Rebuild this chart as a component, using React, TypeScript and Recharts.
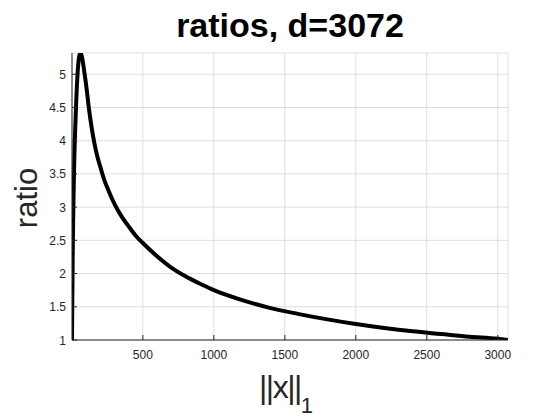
import React from 'react';
import { LineChart, Line, XAxis, YAxis, CartesianGrid } from 'recharts';

// values
const norms = [
  1, 2, 4, 6, 9, 13, 18, 24, 30, 40, 50, 60, 70, 80, 90, 100, 120, 140, 160, 180, 200, 230,
  260, 300, 350, 400, 450, 500, 600, 700, 800, 900, 1000, 1200, 1400, 1600, 1800, 2000, 2200,
  2400, 2600, 2800, 3000, 3072,
];
const ratios = [
  1.0, 1.3, 1.8, 2.3, 2.8, 3.3, 3.8, 4.2, 4.55, 5.0, 5.25, 5.32, 5.27, 5.15, 5.0, 4.85, 4.49,
  4.19, 3.95, 3.76, 3.61, 3.4, 3.24, 3.05, 2.86, 2.71, 2.57, 2.46, 2.26, 2.09, 1.96, 1.85, 1.75,
  1.6, 1.48, 1.39, 1.31, 1.24, 1.18, 1.13, 1.09, 1.05, 1.02, 1.0,
];
const xTicks = [500, 1000, 1500, 2000, 2500, 3000];
const yTicks = [1, 1.5, 2, 2.5, 3, 3.5, 4, 4.5, 5];

const data = norms.map((n, i) => ({ n, r: ratios[i] }));

const AXIS = '#262626';
const FONT = 'Arial, "Liberation Sans", Helvetica, sans-serif';

const XTick = (props: any) => {
  const { x, y, payload } = props;
  return (
    <g>
      <line x1={x} x2={x} y1={y} y2={y - 5} stroke={AXIS} strokeWidth={1} />
      <text x={x} y={y + 19} textAnchor="middle" fontSize={12} fill={AXIS} fontFamily={FONT}>
        {payload.value}
      </text>
    </g>
  );
};

const YTick = (props: any) => {
  const { x, y, payload } = props;
  return (
    <g>
      <line x1={x} x2={x + 5} y1={y} y2={y} stroke={AXIS} strokeWidth={1} />
      <text x={x - 6} y={y + 4.5} textAnchor="end" fontSize={12} fill={AXIS} fontFamily={FONT}>
        {payload.value}
      </text>
    </g>
  );
};

const StartDot = (props: any) => {
  const { cx, cy, payload, index } = props;
  if (payload.n > 18) return <g key={index} />;
  return <circle key={index} cx={cx} cy={cy} r={1.6} fill="#000" />;
};

export default function App() {
  return (
    <div style={{ position: 'absolute', left: 0, top: 0, width: 560, height: 420, background: '#fff' }}>
      <LineChart
        width={560}
        height={420}
        data={data}
        margin={{ top: 53, right: 52, left: 0, bottom: 50 }}
      >
        <CartesianGrid stroke="#dedede" strokeWidth={1} />
        <XAxis
          dataKey="n"
          type="number"
          domain={[1, 3072]}
          ticks={xTicks}
          height={30}
          tickSize={0}
          tickMargin={0}
          tick={<XTick />}
          stroke={AXIS}
          allowDataOverflow
        />
        <YAxis
          type="number"
          domain={[1, 5.32]}
          ticks={yTicks}
          width={72}
          tickSize={0}
          tickMargin={0}
          tick={<YTick />}
          stroke={AXIS}
          allowDataOverflow
        />
        <Line
          type="monotone"
          dataKey="r"
          stroke="#000"
          strokeWidth={4}
          dot={<StartDot />}
          isAnimationActive={false}
        />
      </LineChart>
      <svg
        width={560}
        height={420}
        style={{ position: 'absolute', left: 0, top: 0, pointerEvents: 'none' }}
      >
        <text x={290} y={37} textAnchor="middle" fontSize={34} fontWeight="bold" fill="#000" fontFamily={FONT}>
          ratios, d=3072
        </text>
        <text
          transform="translate(37,198) rotate(-90)"
          textAnchor="middle"
          fontSize={31}
          fill={AXIS}
          fontFamily={FONT}
        >
          ratio
        </text>
        <text x={259} y={398} fontSize={32} fill={AXIS} fontFamily={FONT} letterSpacing={-1.5}>
          ||x||
          <tspan fontSize={22} dy={15} letterSpacing={0}>1</tspan>
        </text>
      </svg>
    </div>
  );
}
